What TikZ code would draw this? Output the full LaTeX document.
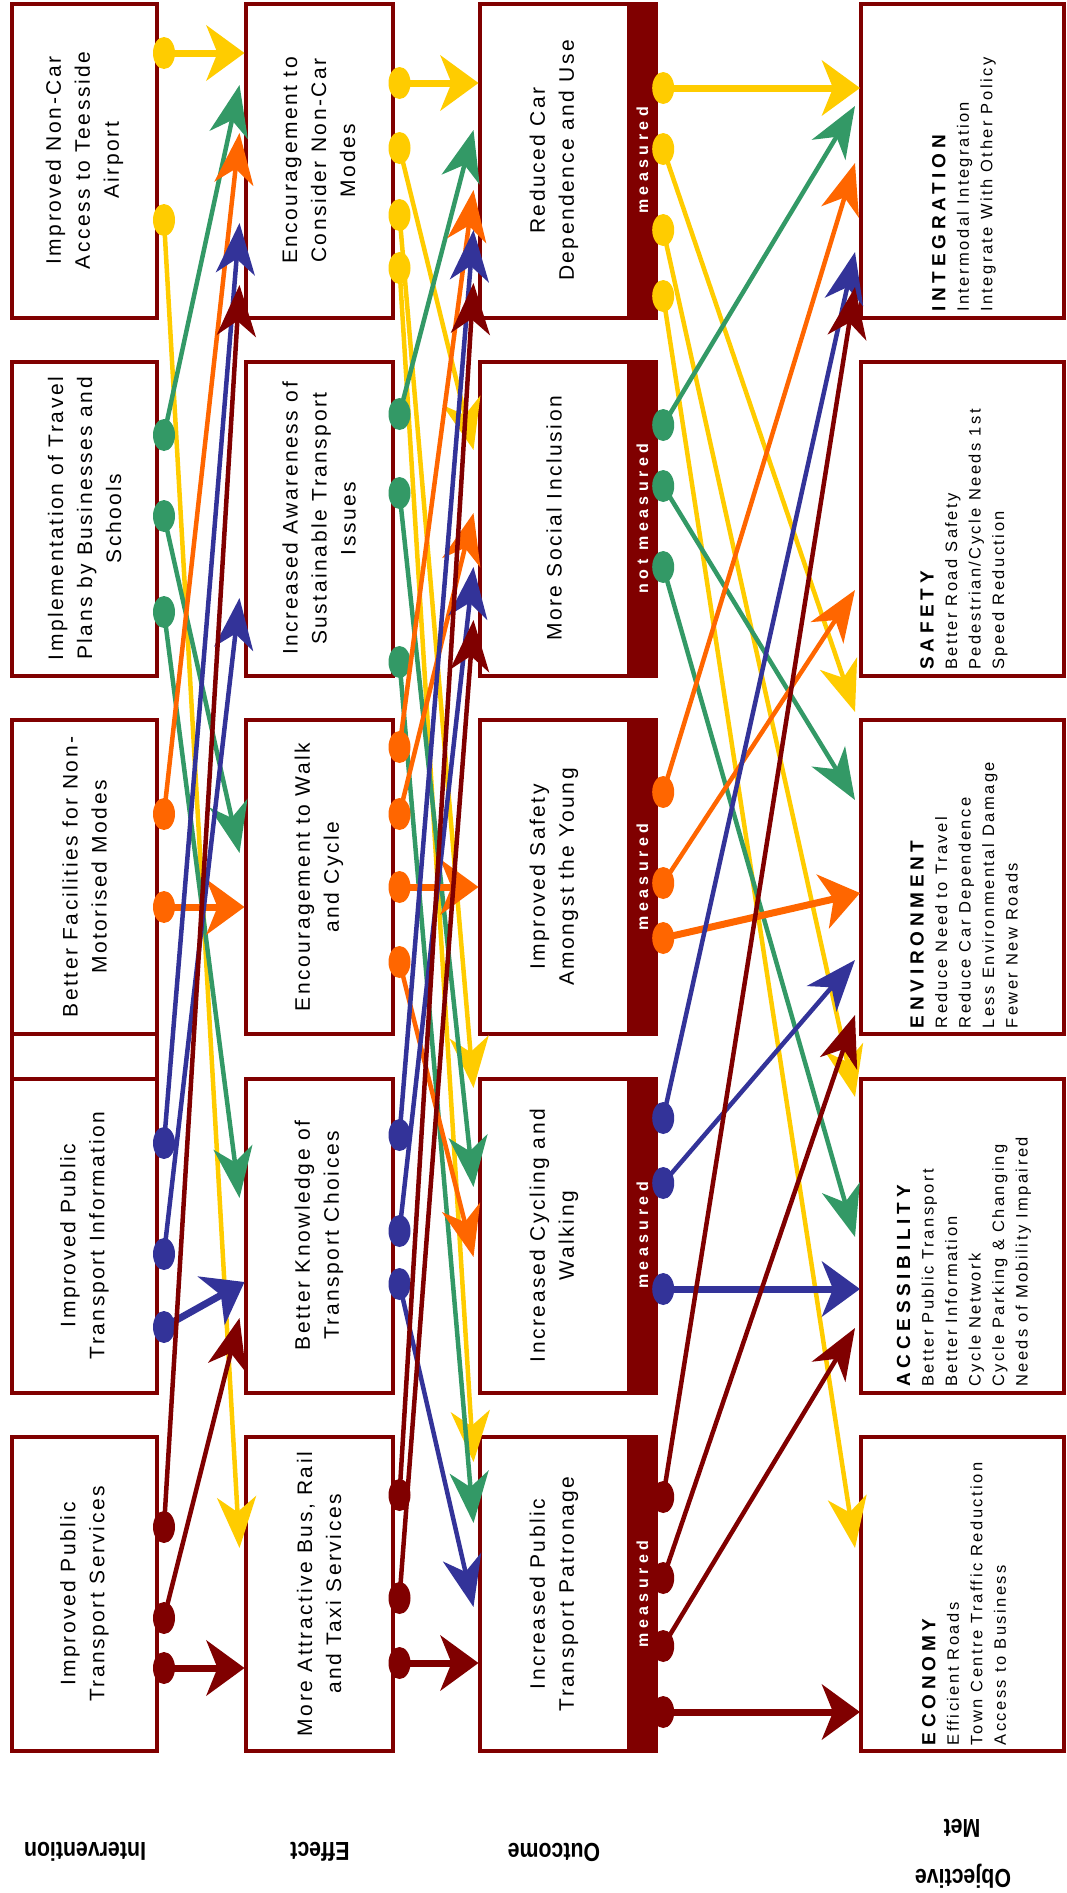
\documentclass[tikz,border=0pt]{standalone}
\usepackage{fontspec}
\usepackage{graphicx}
\setmainfont{Liberation Sans}
\newfontfamily\boxfont[LetterSpace=12]{Liberation Sans}
\newfontfamily\tagfont[LetterSpace=28]{Liberation Sans}
\newfontfamily\headfont[LetterSpace=25]{Liberation Sans}
\newfontfamily\goalfont[LetterSpace=15]{Liberation Sans}
\usetikzlibrary{arrows.meta,calc}

\definecolor{dkred}{HTML}{800000}
\definecolor{gold}{HTML}{FFCC00}
\definecolor{leaf}{HTML}{339966}
\definecolor{tang}{HTML}{FF6600}
\definecolor{navy}{HTML}{333399}

\newcommand\goalhead{\headfont\bfseries\fontsize{19}{23.5}\selectfont}

% #1 colour, #2 line style, #3 source node, #4 source y,
% #5 target node, #6 target y, #7 shift of the tip from the target's west side
\newcommand\link[7]{%
  \draw[#1,#2] ($(#3.east |- 0,#4)+(5,0)$) -- ($(#5.west |- 0,#6)+(#7,0)$);
  \fill[#1] ($(#3.east |- 0,#4)+(5,0)$) ellipse [x radius=11, y radius=16];
}

\begin{document}
\begin{tikzpicture}[x=1pt,y=-1pt,
  box/.style={draw=dkred, line width=4pt, fill=white, minimum height=314pt, inner sep=0pt},
  boxtext/.style={rotate=90, align=center, inner sep=0pt, font=\boxfont\fontsize{21}{29}\selectfont},
  tagbar/.style={fill=dkred, minimum width=31pt, minimum height=318pt, inner sep=0pt,
                 text=white, font=\tagfont\bfseries\fontsize{16}{18}\selectfont},
  goaltext/.style={rotate=90, anchor=west, align=left, inner sep=0pt,
                   font=\goalfont\fontsize{16.5}{23.5}\selectfont},
  stagelabel/.style={rotate=180, inner sep=0pt, font=\bfseries\fontsize{26}{30}\selectfont},
  thinlink/.style={line width=4.5pt, -{Stealth[length=51pt,width=39pt,inset=15pt]}},
  thicklink/.style={line width=7pt, -{Stealth[length=38pt,width=55pt,inset=11pt]}}]

\useasboundingbox (0,0) rectangle (1067,1893);

% ---------- Intervention column ----------
\node[box, minimum width=145pt] (I1) at (84.5,160.5) {};
\node[box, minimum width=145pt] (I2) at (84.5,518.5) {};
\node[box, minimum width=145pt] (I3) at (84.5,877) {};
\node[box, minimum width=145pt] (I4) at (84.5,1235.5) {};
\node[box, minimum width=145pt] (I5) at (84.5,1594) {};
% side rails joining the third and fourth boxes
\draw[dkred, line width=4pt] (12,1034) -- (12,1078.5) (157,1034) -- (157,1078.5);

\node[boxtext] (I1t) at (I1) {Improved Non-Car\\Access to Teesside\\Airport};
\node[boxtext] (I2t) at (I2) {Implementation of Travel\\Plans by Businesses and\\Schools};
\node[boxtext] (I3t) at (I3) {Better Facilities for Non-\\Motorised Modes};
\node[boxtext] (I4t) at (I4) {Improved Public\\Transport Information};
\node[boxtext] (I5t) at (I5) {Improved Public\\Transport Services};

% ---------- Effect column ----------
\node[box, minimum width=147pt] (E1) at (319,160.5) {};
\node[box, minimum width=147pt] (E2) at (319,518.5) {};
\node[box, minimum width=147pt] (E3) at (319,877) {};
\node[box, minimum width=147pt] (E4) at (319,1235.5) {};
\node[box, minimum width=147pt] (E5) at (319,1594) {};

\node[boxtext] (E1t) at (E1) {Encouragement to\\Consider Non-Car\\Modes};
\node[boxtext] (E2t) at (E2) {Increased Awareness of\\Sustainable Transport\\Issues};
\node[boxtext] (E3t) at (E3) {Encouragement to Walk\\and Cycle};
\node[boxtext] (E4t) at (E4) {Better Knowledge of\\Transport Choices};
\node[boxtext] (E5t) at (E5) {More Attractive Bus, Rail\\and Taxi Services};

% ---------- Outcome column with measurement bars ----------
\node[box, minimum width=149pt] (O1) at (554,160.5) {};
\node[box, minimum width=149pt] (O2) at (554,518.5) {};
\node[box, minimum width=149pt] (O3) at (554,877) {};
\node[box, minimum width=149pt] (O4) at (554,1235.5) {};
\node[box, minimum width=149pt] (O5) at (554,1594) {};

\node[boxtext] (O1t) at (O1) {Reduced Car\\Dependence and Use};
\node[boxtext] (O2t) at (O2) {More Social Inclusion};
\node[boxtext] (O3t) at (O3) {Improved Safety\\Amongst the Young};
\node[boxtext] (O4t) at (O4) {Increased Cycling and\\Walking};
\node[boxtext] (O5t) at (O5) {Increased Public\\Transport Patronage};

\node[tagbar] (B1) at (642.5,160.5) {\rotatebox{90}{measured}};
\node[tagbar] (B2) at (642.5,518.5) {\rotatebox{90}{not measured}};
\node[tagbar] (B3) at (642.5,877) {\rotatebox{90}{measured}};
\node[tagbar] (B4) at (642.5,1235.5) {\rotatebox{90}{measured}};
\node[tagbar] (B5) at (642.5,1594) {\rotatebox{90}{measured}};

% ---------- Objective column ----------
\node[box, minimum width=203pt] (G1) at (962.5,160.5) {};
\node[box, minimum width=203pt] (G2) at (962.5,518.5) {};
\node[box, minimum width=203pt] (G3) at (962.5,877) {};
\node[box, minimum width=203pt] (G4) at (962.5,1235.5) {};
\node[box, minimum width=203pt] (G5) at (962.5,1594) {};

\node[goaltext] (G1t) at ($(G1.south)+(1.5,-7.5)$)
  {{\goalhead INTEGRATION}\\Intermodal Integration\\Integrate With Other Policy};
\node[goaltext] (G2t) at ($(G2.south)+(1.5,-7.5)$)
  {{\goalhead SAFETY}\\Better Road Safety\\Pedestrian/Cycle Needs 1st\\Speed Reduction};
\node[goaltext] (G3t) at ($(G3.south)+(1.5,-7.5)$)
  {{\goalhead ENVIRONMENT}\\Reduce Need to Travel\\Reduce Car Dependence\\Less Environmental Damage\\Fewer New Roads};
\node[goaltext] (G4t) at ($(G4.south)+(1.5,-7.5)$)
  {{\goalhead ACCESSIBILITY}\\Better Public Transport\\Better Information\\Cycle Network\\Cycle Parking \& Changing\\Needs of Mobility Impaired};
\node[goaltext] (G5t) at ($(G5.south)+(1.5,-7.5)$)
  {{\goalhead ECONOMY}\\Efficient Roads\\Town Centre Traffic Reduction\\Access to Business};

% ---------- Stage captions ----------
\node[stagelabel] (L1) at (85,1852) {\scalebox{0.82}[1]{Intervention}};
\node[stagelabel] (L2) at (320,1852) {\scalebox{0.82}[1]{Effect}};
\node[stagelabel] (L3) at (554,1852) {\scalebox{0.82}[1]{Outcome}};
\node[stagelabel] (L4a) at (963,1876) {\scalebox{0.82}[1]{Objective}};
\node[stagelabel] (L4b) at (962,1828) {\scalebox{0.82}[1]{Met}};

% ---------- Intervention -> Effect ----------
\link{gold}{thicklink}{I1}{53}{E1}{53}{1}
\link{gold}{thinlink}{I1}{220}{E5}{1548}{-4}
\link{leaf}{thinlink}{I2}{435}{E1}{85}{-4}
\link{leaf}{thinlink}{I2}{516}{E3}{853}{-4}
\link{leaf}{thinlink}{I2}{612}{E4}{1198}{-4}
\link{tang}{thinlink}{I3}{814}{E1}{133}{-4}
\link{tang}{thicklink}{I3}{907}{E3}{907}{1}
\link{navy}{thinlink}{I4}{1143}{E1}{223}{-4}
\link{navy}{thinlink}{I4}{1254}{E2}{598}{-4}
\link{navy}{thicklink}{I4}{1327}{E4}{1282}{1}
\link{dkred}{thinlink}{I5}{1527}{E1}{285}{-4}
\link{dkred}{thinlink}{I5}{1618}{E4}{1318}{-4}
\link{dkred}{thicklink}{I5}{1668}{E5}{1668}{1}

% ---------- Effect -> Outcome ----------
\link{gold}{thicklink}{E1}{83}{O1}{83}{1}
\link{gold}{thinlink}{E1}{148}{O2}{450}{-4}
\link{gold}{thinlink}{E1}{215}{O4}{1088}{-4}
\link{gold}{thinlink}{E1}{268}{O5}{1462}{-4}
\link{leaf}{thinlink}{E2}{414}{O1}{130}{-4}
\link{leaf}{thinlink}{E2}{493}{O4}{1187}{-4}
\link{leaf}{thinlink}{E2}{662}{O5}{1523}{-4}
\link{tang}{thinlink}{E3}{747}{O1}{190}{-4}
\link{tang}{thinlink}{E3}{814}{O2}{513}{-4}
\link{tang}{thicklink}{E3}{887}{O3}{887}{1}
\link{tang}{thinlink}{E3}{962}{O4}{1257}{-4}
\link{navy}{thinlink}{E4}{1135}{O1}{230}{-4}
\link{navy}{thinlink}{E4}{1231}{O2}{567}{-4}
\link{navy}{thinlink}{E4}{1284}{O5}{1607}{-4}
\link{dkred}{thinlink}{E5}{1495}{O1}{283}{-4}
\link{dkred}{thinlink}{E5}{1598}{O2}{620}{-4}
\link{dkred}{thicklink}{E5}{1663}{O5}{1663}{1}

% ---------- Outcome -> Objective ----------
\link{gold}{thicklink}{B1}{88}{G1}{88}{1}
\link{gold}{thinlink}{B1}{149}{G3}{712}{-4}
\link{gold}{thinlink}{B1}{230}{G4}{1097}{-4}
\link{gold}{thinlink}{B1}{296}{G5}{1548}{-4}
\link{leaf}{thinlink}{B2}{425}{G1}{106}{-4}
\link{leaf}{thinlink}{B2}{486}{G3}{800}{-4}
\link{leaf}{thinlink}{B2}{567}{G4}{1237}{-4}
\link{tang}{thinlink}{B3}{792}{G1}{163}{-4}
\link{tang}{thinlink}{B3}{883}{G2}{590}{-4}
\link{tang}{thicklink}{B3}{938}{G3}{893}{1}
\link{navy}{thinlink}{B4}{1118}{G1}{252}{-4}
\link{navy}{thinlink}{B4}{1183}{G3}{960}{-4}
\link{navy}{thicklink}{B4}{1289}{G4}{1289}{1}
\link{dkred}{thinlink}{B5}{1497}{G1}{287}{-4}
\link{dkred}{thinlink}{B5}{1578}{G3}{1015}{-4}
\link{dkred}{thinlink}{B5}{1646}{G4}{1328}{-4}
\link{dkred}{thicklink}{B5}{1712}{G5}{1712}{1}

\end{tikzpicture}
\end{document}
